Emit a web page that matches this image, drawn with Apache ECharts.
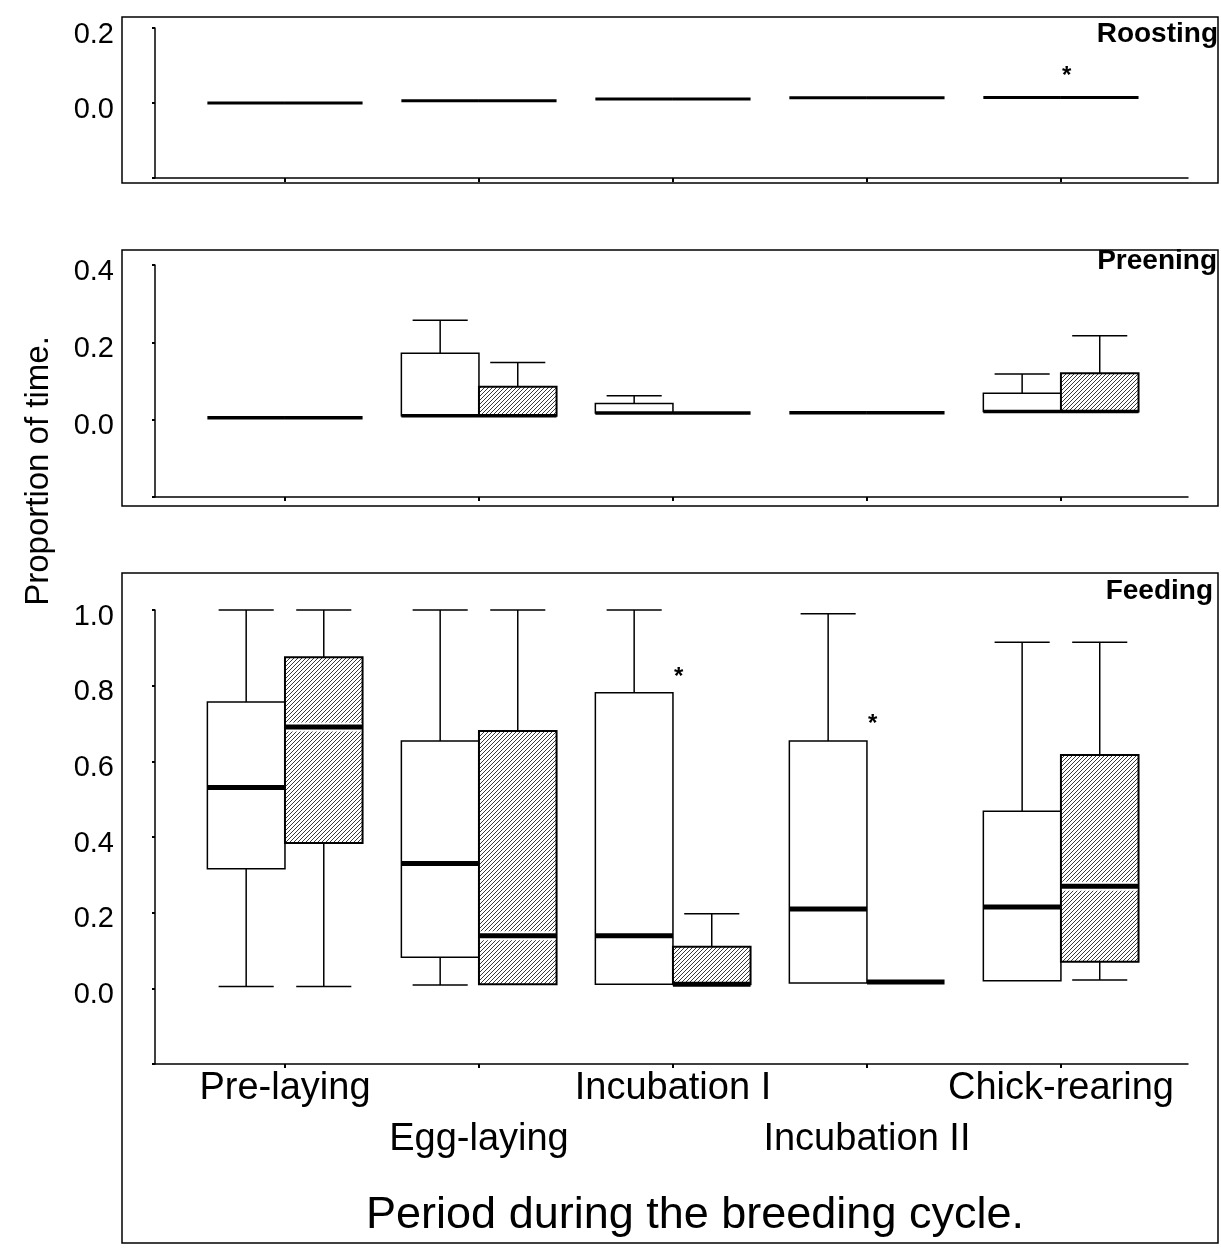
<!DOCTYPE html>
<html>
<head>
<meta charset="utf-8">
<title>Proportion of time by breeding period</title>
<script src="https://cdn.jsdelivr.net/npm/echarts@6/dist/echarts.min.js"></script>
<style>
  html, body { margin: 0; padding: 0; background: #fff; }
  #chart { width: 1221px; height: 1248px; }
</style>
</head>
<body>
<div id="chart"></div>
<script>
// Breeding-cycle periods (x categories, placed at 1..5)
const periods = ['Pre-laying', 'Egg-laying', 'Incubation I', 'Incubation II', 'Chick-rearing'];

// Box statistics per period: [min, Q1, median, Q3, max]
// open = plain boxes, hatched = shaded boxes
const roostingOpen = [
  [0, 0, 0, 0, 0],
  [0.006, 0.006, 0.006, 0.006, 0.006],
  [0.011, 0.011, 0.011, 0.011, 0.011],
  [0.014, 0.014, 0.014, 0.014, 0.014],
  [0.015, 0.015, 0.015, 0.015, 0.015]
];
const roostingHatched = [
  [0, 0, 0, 0, 0],
  [0.006, 0.006, 0.006, 0.006, 0.006],
  [0.011, 0.011, 0.011, 0.011, 0.011],
  [0.014, 0.014, 0.014, 0.014, 0.014],
  [0.015, 0.015, 0.015, 0.015, 0.015]
];
const roostingExtremes = [[5, 0.085]];

const preeningOpen = [
  [0.005, 0.005, 0.005, 0.005, 0.005],
  [0.01, 0.01, 0.01, 0.172, 0.257],
  [0.017, 0.017, 0.017, 0.042, 0.062],
  [0.018, 0.018, 0.018, 0.018, 0.018],
  [0.021, 0.021, 0.021, 0.068, 0.118]
];
const preeningHatched = [
  [0.005, 0.005, 0.005, 0.005, 0.005],
  [0.01, 0.01, 0.01, 0.085, 0.148],
  [0.017, 0.017, 0.017, 0.017, 0.017],
  [0.018, 0.018, 0.018, 0.018, 0.018],
  [0.021, 0.021, 0.021, 0.12, 0.217]
];
const preeningExtremes = [];

const feedingOpen = [
  [0.005, 0.316, 0.531, 0.757, 1.0],
  [0.009, 0.082, 0.33, 0.654, 1.0],
  [0.011, 0.011, 0.139, 0.781, 1.0],
  [0.014, 0.014, 0.21, 0.654, 0.99],
  [0.02, 0.02, 0.215, 0.468, 0.915]
];
const feedingHatched = [
  [0.005, 0.384, 0.691, 0.875, 1.0],
  [0.011, 0.011, 0.139, 0.68, 1.0],
  [0.011, 0.011, 0.011, 0.11, 0.197],
  [0.017, 0.017, 0.017, 0.017, 0.017],
  [0.022, 0.07, 0.27, 0.617, 0.915]
];
const feedingExtremes = [[3, 0.834], [4, 0.712]];

// y-axis ranges and tick step of the three panels
const panelNames = ['Roosting', 'Preening', 'Feeding'];
const yMax = [0.2, 0.4, 1.0];
const yMin = -0.2;
const yStep = 0.2;

const FONT = '"Liberation Sans", Arial, Helvetica, sans-serif';
const BOX_HALF = 0.4;   // width of one box in x units
const CAP_RATIO = 0.355; // half-width of whisker cap relative to box width
const X_MIN = 0.33, X_MAX = 5.655;

// diagonal hatch tile for the shaded boxes
function makeHatch() {
  const c = document.createElement('canvas');
  c.width = 4; c.height = 4;
  const g = c.getContext('2d');
  g.fillStyle = '#fff';
  g.fillRect(0, 0, 4, 4);
  g.strokeStyle = '#222';
  g.lineWidth = 0.9;
  g.beginPath();
  g.moveTo(-1, 5); g.lineTo(5, -1);
  g.moveTo(-1, 1); g.lineTo(1, -1);
  g.moveTo(3, 5); g.lineTo(5, 3);
  g.stroke();
  return c;
}
const hatch = { image: makeHatch(), repeat: 'repeat' };

function toBoxData(open, shaded) {
  return open.map((s, i) => [i + 1].concat(s, [0]))
    .concat(shaded.map((s, i) => [i + 1].concat(s, [1])));
}

function boxRenderer(medW) {
  return function (params, api) {
    const k = api.value(0);
    const mn = api.value(1), q1 = api.value(2), md = api.value(3), q3 = api.value(4), mx = api.value(5);
    const side = api.value(6);
    const c = api.coord([k, 0])[0];
    const w = api.size([BOX_HALF, 0])[0];
    const x0 = side ? c : c - w;
    const x1 = x0 + w;
    const xm = (x0 + x1) / 2;
    const cw = w * CAP_RATIO;
    const y = v => api.coord([k, v])[1];
    const thin = { stroke: '#000', lineWidth: 1.5 };
    const ln = (ax, ay, bx, by, st) => ({ type: 'line', shape: { x1: ax, y1: ay, x2: bx, y2: by }, style: st || thin });
    const ch = [];
    if (mx > q3) {
      ch.push(ln(xm, y(q3), xm, y(mx)));
      ch.push(ln(xm - cw, y(mx), xm + cw, y(mx)));
    }
    if (mn < q1) {
      ch.push(ln(xm, y(q1), xm, y(mn)));
      ch.push(ln(xm - cw, y(mn), xm + cw, y(mn)));
    }
    if (q3 > q1) {
      ch.push({
        type: 'rect',
        shape: { x: x0, y: y(q3), width: w, height: y(q1) - y(q3) },
        style: { fill: side ? hatch : '#fff', stroke: '#000', lineWidth: side ? 2 : 1.5 }
      });
      if (side && md > q1 && md < q3) {
        ch.push(ln(x0 + 1, y(md), x1 - 1, y(md), { stroke: '#fff', lineWidth: medW + 4 }));
      }
    }
    ch.push(ln(x0, y(md), x1, y(md), { stroke: '#000', lineWidth: medW, lineCap: 'butt' }));
    return { type: 'group', children: ch };
  };
}

function starRenderer(params, api) {
  const p = api.coord([api.value(0) + 0.03, api.value(1)]);
  return {
    type: 'text',
    x: p[0], y: p[1] + 5,
    style: { text: '*', fontSize: 24, fontWeight: 'bold', fontFamily: FONT, fill: '#000', align: 'center', verticalAlign: 'middle' }
  };
}

// plot areas of the three panels
const gridTops = [28, 265, 610];
const gridHeights = [150, 232, 454];
const grids = gridTops.map((t, i) => ({ left: 155, width: 1033, top: t, height: gridHeights[i], containLabel: false }));

const periodLabel = v => periods[Math.round(v) - 1];
const xLabelStyle = {
  show: true, hideOverlap: false, showMinLabel: true, showMaxLabel: true,
  fontSize: 38, fontFamily: FONT, color: '#000', lineHeight: 51, formatter: periodLabel
};

const xAxes = grids.map((g, i) => ({
  type: 'value', gridIndex: i, min: X_MIN, max: X_MAX,
  axisLine: { show: true, onZero: false, lineStyle: { color: '#000', width: 1.5 } },
  axisTick: { show: true, customValues: [1, 2, 3, 4, 5], length: 4, inside: false, lineStyle: { color: '#000', width: 2 } },
  axisLabel: i === 2 ? Object.assign({}, xLabelStyle, { customValues: [1, 3, 5], margin: -1 }) : { show: false },
  splitLine: { show: false }
}));
// second, staggered row of period names under the Feeding panel
xAxes.push({
  type: 'value', gridIndex: 2, min: X_MIN, max: X_MAX, position: 'bottom',
  axisLine: { show: false }, axisTick: { show: false }, splitLine: { show: false },
  axisLabel: Object.assign({}, xLabelStyle, { customValues: [2, 4], margin: 50 })
});

const yAxes = grids.map((g, i) => ({
  type: 'value', gridIndex: i, min: yMin, max: yMax[i], interval: yStep,
  axisLine: { show: true, onZero: false, lineStyle: { color: '#000', width: 1.5 } },
  axisTick: { show: true, length: 3, inside: false, lineStyle: { color: '#000', width: 2 } },
  axisLabel: {
    show: true, margin: 41, color: '#000',
    formatter: v => (v < -0.01 ? '' : '{v|' + v.toFixed(1) + '}'),
    rich: { v: { fontSize: 29, fontFamily: FONT, color: '#000', padding: [13, 0, 0, 0] } }
  },
  splitLine: { show: false }
}));

const boxSets = [
  [roostingOpen, roostingHatched, roostingExtremes, 3],
  [preeningOpen, preeningHatched, preeningExtremes, 3.5],
  [feedingOpen, feedingHatched, feedingExtremes, 5]
];

const series = [];
boxSets.forEach((s, i) => {
  series.push({
    name: panelNames[i], type: 'custom', xAxisIndex: i, yAxisIndex: i,
    renderItem: boxRenderer(s[3]),
    encode: { x: 0, y: [1, 2, 3, 4, 5] },
    data: toBoxData(s[0], s[1]), clip: false, silent: true
  });
  if (s[2].length) {
    series.push({
      name: panelNames[i] + ' extremes', type: 'custom', xAxisIndex: i, yAxisIndex: i,
      renderItem: starRenderer, encode: { x: 0, y: 1 },
      data: s[2], silent: true
    });
  }
});

// outer frames around each panel
const frames = [[122, 17, 1096, 166], [122, 250, 1096, 256], [122, 573, 1096, 670]];

const chart = echarts.init(document.getElementById('chart'), null, { renderer: 'canvas' });
chart.setOption({
  backgroundColor: '#fff',
  animation: false,
  title: panelNames.map((n, i) => ({
    text: n, right: [3, 4, 8][i], top: [20, 247, 577][i], padding: 0,
    textStyle: { fontSize: 28, fontWeight: 'bold', fontFamily: FONT, color: '#000' }
  })),
  grid: grids,
  xAxis: xAxes,
  yAxis: yAxes,
  series: series,
  graphic: frames.map(f => ({
    type: 'rect', silent: true, z: -1,
    shape: { x: f[0], y: f[1], width: f[2], height: f[3] },
    style: { fill: 'none', stroke: '#000', lineWidth: 1.5 }
  })).concat([
    {
      type: 'text', x: 39, y: 471, rotation: Math.PI / 2, silent: true,
      style: { text: 'Proportion of time.', fontSize: 33, fontFamily: FONT, fill: '#000', align: 'center', verticalAlign: 'middle' }
    },
    {
      type: 'text', x: 695, y: 1216, silent: true,
      style: { text: 'Period during the breeding cycle.', fontSize: 45, fontFamily: FONT, fill: '#000', align: 'center', verticalAlign: 'middle' }
    }
  ])
});
</script>
</body>
</html>
